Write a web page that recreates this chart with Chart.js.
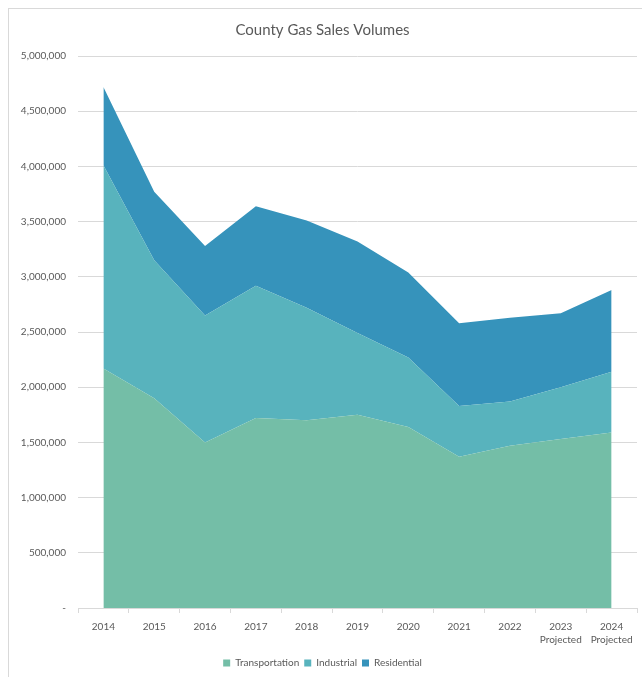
<!DOCTYPE html>
<html>
<head>
<meta charset="utf-8">
<script src="https://cdn.jsdelivr.net/npm/chart.js@4/dist/chart.umd.min.js"></script>
<style>
  html, body { margin: 0; padding: 0; background: #fff; }
  #frame {
    position: absolute; left: 8px; top: 8px; width: 634px; height: 669px;
    border-left: 1px solid #d9d9d9; border-top: 1px solid #d9d9d9;
  }
  #wrap { position: absolute; left: 0; top: 0; width: 642px; height: 677px; }
</style>
</head>
<body>
<div id="frame"></div>
<div id="wrap"><canvas id="gasChart" width="642" height="677"></canvas></div>
<script>
const years = ["2014", "2015", "2016", "2017", "2018", "2019", "2020", "2021", "2022", ["2023", "Projected"], ["2024", "Projected"]];
const transportation = [2170000, 1900000, 1500000, 1720000, 1700000, 1750000, 1640000, 1370000, 1470000, 1530000, 1590000];
const industrial = [1840000, 1250000, 1150000, 1200000, 1020000, 740000, 630000, 460000, 400000, 470000, 550000];
const residential = [710000, 620000, 630000, 720000, 790000, 830000, 770000, 750000, 760000, 670000, 740000];

const textGrey = "#595959";
const fontFamily = "Lato, 'Open Sans', sans-serif";

function areaSet(label, data, color, fillTo) {
    return {
        label,
        data,
        backgroundColor: color,
        borderColor: color,
        borderWidth: 0,
        pointRadius: 0,
        fill: fillTo,
        tension: 0
    };
}

new Chart(document.getElementById("gasChart"), {
    type: "line",
    data: {
        labels: years,
        datasets: [
            areaSet("Transportation", transportation, "#74bea7", "origin"),
            areaSet("Industrial", industrial, "#58b3bd", "-1"),
            areaSet("Residential", residential, "#3693bb", "-1")
        ]
    },
    options: {
        responsive: false,
        animation: false,
        layout: { padding: { left: 8, right: 5, top: 10, bottom: -1 } },
        plugins: {
            title: {
                display: true,
                text: "County Gas Sales Volumes",
                color: textGrey,
                font: { family: fontFamily, size: 15, weight: "normal" },
                padding: { top: 11, bottom: 17 }
            },
            legend: {
                position: "bottom",
                labels: {
                    color: textGrey,
                    font: { family: fontFamily, size: 10 },
                    boxWidth: 7,
                    boxHeight: 7,
                    padding: 5
                }
            },
            tooltip: { enabled: false }
        },
        scales: {
            x: {
                offset: true,
                grid: {
                    offset: true,
                    drawOnChartArea: false,
                    drawTicks: true,
                    tickLength: 5,
                    color: "#d9d9d9"
                },
                border: { display: true, color: "#d9d9d9" },
                ticks: {
                    color: textGrey,
                    font: { family: fontFamily, size: 10, lineHeight: 1.3 },
                    maxRotation: 0,
                    autoSkip: false,
                    padding: 7
                }
            },
            y: {
                stacked: true,
                min: 0,
                max: 5000000,
                grid: { color: "#d9d9d9", drawTicks: false },
                border: { display: false },
                ticks: {
                    stepSize: 500000,
                    color: textGrey,
                    font: { family: fontFamily, size: 10 },
                    padding: 12,
                    callback: v => v === 0 ? "-" : v.toLocaleString("en-US")
                },
                afterFit: scale => { scale.width = 70; }
            }
        }
    }
});
</script>
</body>
</html>
